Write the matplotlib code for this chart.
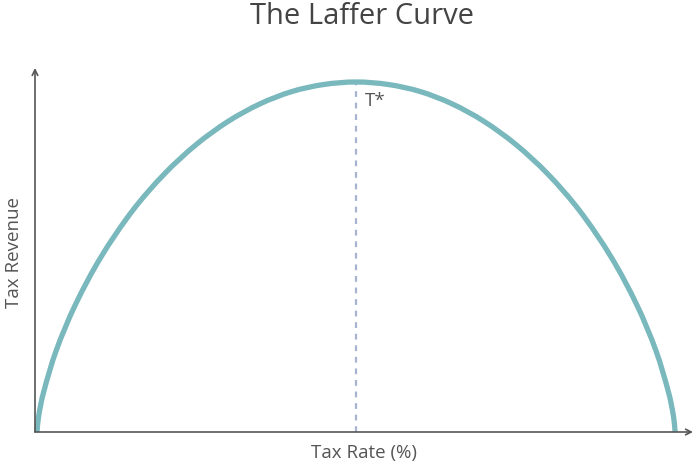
import matplotlib
matplotlib.use("Agg")
import matplotlib.pyplot as plt
import numpy as np
from matplotlib.path import Path
from matplotlib.patches import PathPatch

# Werte (Steuersatz 0..100, Einnahmen 0..100)
tax_rate = [0, 0.25, 1, 3, 6, 10, 15, 20, 25, 30, 35, 40, 45, 50,
            55, 60, 65, 70, 75, 80, 85, 90, 94, 97, 99, 99.75, 100]
tax_revenue = [0, 4.4, 11.1, 23.2, 36.3, 49.9, 63.3, 73.8, 82.2, 88.8, 93.8,
               97.3, 99.3, 100, 99.3, 97.3, 93.8, 88.8, 82.2, 73.8, 63.3,
               49.9, 36.3, 23.2, 11.1, 4.4, 0]
t_star = 50
t_star_label = "T*"

plt.rcParams["font.family"] = ["Open Sans", "DejaVu Sans"]


def glatte_kurve(xs, ys, aspect=(6.38, 3.5)):
    s = np.array(aspect)
    P = np.column_stack([xs, ys]) * s
    d = np.linalg.norm(np.diff(P, axis=0), axis=1)
    t = np.concatenate([[0], np.cumsum(d)])
    m = np.zeros_like(P)
    m[1:-1] = (P[2:] - P[:-2]) / (t[2:] - t[:-2])[:, None]
    m[0] = (P[1] - P[0]) / d[0]
    m[-1] = (P[-1] - P[-2]) / d[-1]
    verts = [P[0]]
    codes = [Path.MOVETO]
    for i in range(len(P) - 1):
        verts += [P[i] + m[i] * d[i] / 3, P[i + 1] - m[i + 1] * d[i] / 3, P[i + 1]]
        codes += [Path.CURVE4] * 3
    return Path(np.array(verts) / s, codes)


fig = plt.figure(figsize=(7, 4.66), dpi=100)
W, H = 700, 466
ax = fig.add_axes([35 / W, 1 - 432 / H, (693 - 35) / W, (432 - 68) / H])
ax.set_xlim(-0.31, 102.8)
ax.set_ylim(0, 104)

# Kurve
patch = PathPatch(glatte_kurve(tax_rate, tax_revenue), facecolor="none",
                  edgecolor="#79b8bd", lw=3.8, joinstyle="round",
                  capstyle="butt", clip_on=False, zorder=3)
ax.add_patch(patch)

# gestrichelte Linie beim Maximum
ax.plot([t_star, t_star], [0, max(tax_revenue)], color="#a7b3cf", lw=1.6,
        dashes=(2.6, 2.6), zorder=2)
ax.text(t_star + 1.4, 94.5, t_star_label, fontsize=13.5, color="#555555",
        ha="left", va="center")

# Achsen mit Pfeilen
for s in ax.spines.values():
    s.set_visible(False)
ax.set_xticks([])
ax.set_yticks([])
ax.annotate("", xy=(1, 0), xytext=(0, 0), xycoords="axes fraction",
            arrowprops=dict(arrowstyle="->", color="#555555", lw=1.2,
                            shrinkA=0, shrinkB=0), annotation_clip=False)
ax.annotate("", xy=(0, 1), xytext=(0, 0), xycoords="axes fraction",
            arrowprops=dict(arrowstyle="->", color="#555555", lw=1.2,
                            shrinkA=0, shrinkB=0), annotation_clip=False)

fig.text(362 / W, 1 - 17 / H, "The Laffer Curve", fontsize=21,
         color="#444444", ha="center", va="center")
fig.text(364 / W, 1 - 453 / H, "Tax Rate (%)", fontsize=13.5,
         color="#555555", ha="center", va="center")
fig.text(14 / W, 1 - 252 / H, "Tax Revenue", fontsize=13.5,
         color="#555555", ha="center", va="center", rotation=90)

fig.savefig("out.png", dpi=100, facecolor="white")
